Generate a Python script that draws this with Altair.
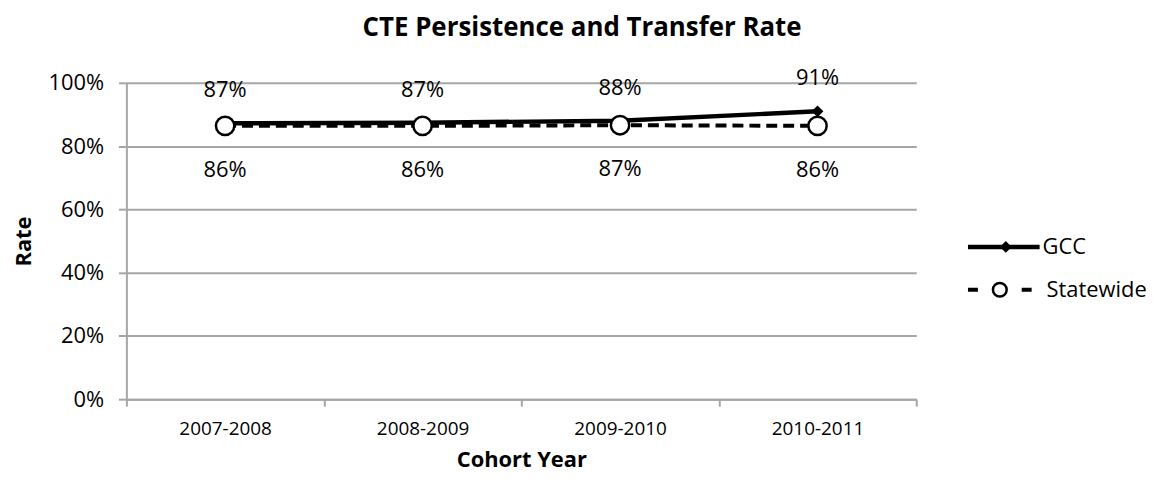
import altair as alt
import pandas as pd

cohorts = ["2007-2008", "2008-2009", "2009-2010", "2010-2011"]
gcc = [0.872, 0.874, 0.880, 0.910]
statewide = [0.864, 0.864, 0.866, 0.864]
series = ["GCC", "Statewide"]
y_ticks = [0, 0.2, 0.4, 0.6, 0.8, 1.0]

df = pd.DataFrame({
    "cohort": cohorts * 2,
    "rate": gcc + statewide,
    "series": [series[0]] * len(cohorts) + [series[1]] * len(cohorts),
})
df_gcc = df[df.series == "GCC"]
df_st = df[df.series == "Statewide"]

FONT = "Open Sans"
GRID = "#a6a6a6"

x_enc = alt.X(
    "cohort:N",
    sort=cohorts,
    bandPosition=0.5,
    scale=alt.Scale(type="band", domain=cohorts, paddingInner=0, paddingOuter=0),
    axis=alt.Axis(
        title="Cohort Year", labelAngle=0, tickBand="extent", grid=False,
        domainColor=GRID, domainWidth=2, tickColor=GRID, tickWidth=2, tickSize=7,
        labelFont=FONT, labelFontSize=19, labelColor="black", labelPadding=14,
        titleFont=FONT, titleFontSize=22, titleFontWeight="bold", titleColor="black",
        titlePadding=11,
    ),
)
y_enc = alt.Y(
    "rate:Q",
    scale=alt.Scale(domain=[0, 1]),
    axis=alt.Axis(
        title="Rate", values=y_ticks, format=".0%", grid=True, gridColor=GRID,
        gridWidth=2, domainColor=GRID, domainWidth=2, tickColor=GRID, tickWidth=2,
        tickSize=8, labelFont=FONT, labelFontSize=22, labelColor="black",
        labelPadding=15, titleFont=FONT, titleFontSize=22, titleFontWeight="bold",
        titleColor="black", titlePadding=12,
    ),
)

base_g = alt.Chart(df_gcc)
base_s = alt.Chart(df_st)

gcc_line = base_g.mark_line(color="black", strokeWidth=4.5).encode(x=x_enc, y=y_enc)
gcc_pts = base_g.mark_point(shape="diamond", filled=True, color="black", size=140, opacity=1).encode(x=x_enc, y=y_enc)
gcc_txt = base_g.mark_text(font=FONT, fontSize=22, dy=-33, baseline="middle", color="black").encode(
    x=x_enc, y=y_enc, text=alt.Text("rate:Q", format=".0%"))

st_line = base_s.mark_line(color="black", strokeWidth=4, strokeDash=[11, 6]).encode(x=x_enc, y=y_enc)
st_pts = base_s.mark_point(shape="circle", filled=True, fill="white", stroke="black", strokeWidth=2.5, size=340, opacity=1).encode(x=x_enc, y=y_enc)
st_txt = base_s.mark_text(font=FONT, fontSize=22, dy=44, baseline="middle", color="black").encode(
    x=x_enc, y=y_enc, text=alt.Text("rate:Q", format=".0%"))

main = alt.layer(gcc_line, gcc_pts, st_line, st_pts, gcc_txt, st_txt).properties(width=794, height=318)

# legend panel
leg_df = pd.DataFrame({"series": series})
ly = alt.Y("series:N", scale=alt.Scale(type="point", domain=series, range=[165, 208], padding=0), axis=None)
lg = alt.Chart(leg_df[leg_df.series == "GCC"])
ls = alt.Chart(leg_df[leg_df.series == "Statewide"])
leg = alt.layer(
    lg.mark_rule(color="black", strokeWidth=4.5).encode(x=alt.value(29), x2=alt.value(101), y=ly),
    lg.mark_point(shape="diamond", filled=True, color="black", size=140, opacity=1).encode(x=alt.value(67), y=ly),
    lg.mark_text(font=FONT, fontSize=22, align="left", baseline="middle", color="black").encode(
        x=alt.value(104), y=ly, text="series:N"),
    ls.mark_rule(color="black", strokeWidth=4, strokeDash=[10, 44]).encode(x=alt.value(29), x2=alt.value(96), y=ly),
    ls.mark_point(shape="circle", filled=True, fill="white", stroke="black", strokeWidth=2.5, size=190, opacity=1).encode(x=alt.value(61), y=ly),
    ls.mark_text(font=FONT, fontSize=22, align="left", baseline="middle", color="black").encode(
        x=alt.value(108), y=ly, text="series:N"),
).properties(width=213, height=318)

chart = alt.hconcat(main, leg, spacing=20).properties(
    padding={"left": 4, "right": 4, "top": 6, "bottom": 2},
    title=alt.TitleParams("CTE Persistence and Transfer Rate", font=FONT, fontSize=26,
                          fontWeight="bold", color="black", anchor="middle", offset=26),
).configure_view(stroke="transparent")

chart.save("out.html", embed_options={"renderer": "svg", "actions": False})
